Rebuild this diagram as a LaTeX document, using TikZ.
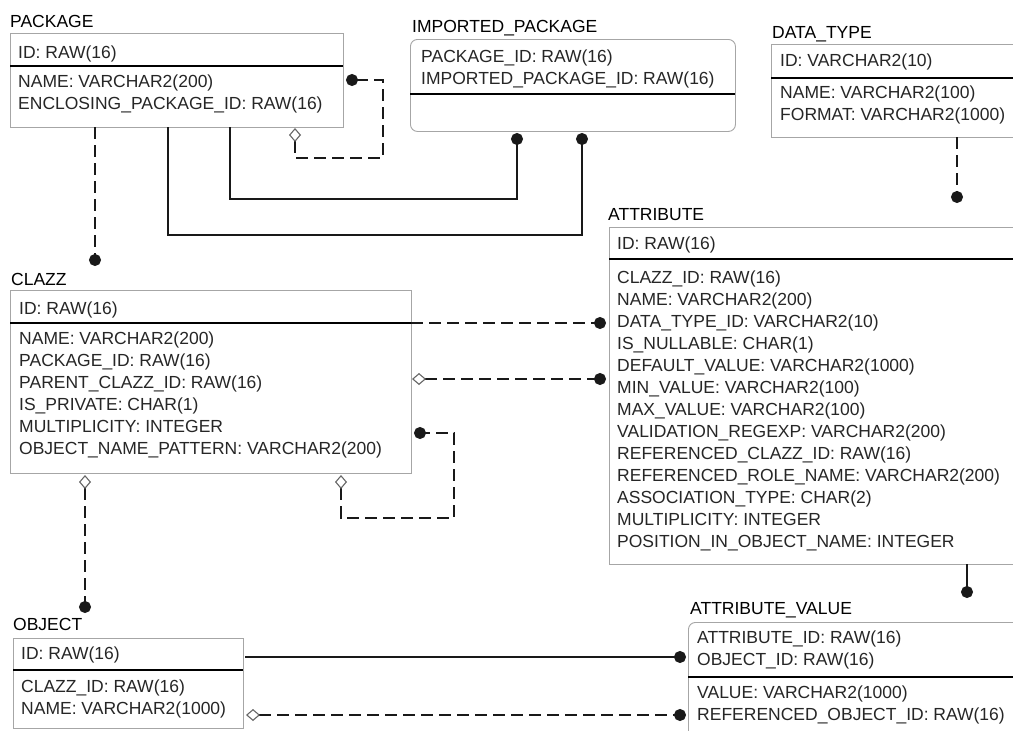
\documentclass[tikz,border=0pt]{standalone}
\usepackage{fontspec}
\setmainfont{Liberation Sans}
\usetikzlibrary{arrows.meta}

\tikzset{
  table/.style={draw=black!35, line width=0.9pt, inner sep=0pt, anchor=north west},
  weak/.style={table, rounded corners=7pt},
  title/.style={anchor=base west, inner sep=0pt, font=\fontsize{17.5}{22}\selectfont},
  % multi-line rows: the base anchor sits on the last line
  rows/.style={anchor=base west, inner sep=0pt, align=left, text=black!85,
    font=\fontsize{17.5}{22}\selectfont},
  sepline/.style={line width=1.2pt},
  ident/.style={line width=1.1pt, black!90},
  nonident/.style={ident, dash pattern=on 12pt off 6pt},
  dot/.style={-{Circle[length=12pt]}},
  dia/.style={{Diamond[open, length=14pt, width=12pt, black!60]}-{Circle[length=12pt]}}
}

\begin{document}
\begin{tikzpicture}[x=1pt, y=-1pt]
  \useasboundingbox (0,0) rectangle (1013,731);
  \fill[white] (0,0) rectangle (1013,731);
  \clip (0,0) rectangle (1013,731);

  % PACKAGE
  \node[title] (packageT) at (10,27) {PACKAGE};
  \node[table, minimum width=333pt, minimum height=94pt] (package) at (10,33) {};
  \draw[sepline] (10,66) -- (343,66);
  \node[rows] (packageK) at (18,58) {ID: RAW(16)};
  \node[rows] (packageB) at (18,109) {NAME: VARCHAR2(200)\\ENCLOSING\_PACKAGE\_ID: RAW(16)};

  % IMPORTED_PACKAGE
  \node[title] (impT) at (412,32) {IMPORTED\_PACKAGE};
  \node[weak, minimum width=325pt, minimum height=92pt] (imp) at (410,39) {};
  \draw[sepline] (410,94) -- (735,94);
  \node[rows] (impK) at (421,84) {PACKAGE\_ID: RAW(16)\\IMPORTED\_PACKAGE\_ID: RAW(16)};

  % DATA_TYPE
  \node[title] (dtypeT) at (772,38) {DATA\_TYPE};
  \node[table, minimum width=260pt, minimum height=93pt] (dtype) at (771,44) {};
  \draw[sepline] (771,78) -- (1031,78);
  \node[rows] (dtypeK) at (780,66) {ID: VARCHAR2(10)};
  \node[rows] (dtypeB) at (780,120) {NAME: VARCHAR2(100)\\FORMAT: VARCHAR2(1000)};

  % ATTRIBUTE
  \node[title] (attrT) at (608,220) {ATTRIBUTE};
  \node[table, minimum width=420pt, minimum height=337pt] (attr) at (609,227) {};
  \draw[sepline] (609,259) -- (1029,259);
  \node[rows] (attrK) at (617,249) {ID: RAW(16)};
  \node[rows] (attrB) at (617,547) {CLAZZ\_ID: RAW(16)\\NAME: VARCHAR2(200)\\DATA\_TYPE\_ID: VARCHAR2(10)\\
    IS\_NULLABLE: CHAR(1)\\DEFAULT\_VALUE: VARCHAR2(1000)\\MIN\_VALUE: VARCHAR2(100)\\
    MAX\_VALUE: VARCHAR2(100)\\VALIDATION\_REGEXP: VARCHAR2(200)\\REFERENCED\_CLAZZ\_ID: RAW(16)\\
    REFERENCED\_ROLE\_NAME: VARCHAR2(200)\\ASSOCIATION\_TYPE: CHAR(2)\\MULTIPLICITY: INTEGER\\
    POSITION\_IN\_OBJECT\_NAME: INTEGER};

  % CLAZZ
  \node[title] (clazzT) at (11,285) {CLAZZ};
  \node[table, minimum width=401pt, minimum height=183pt] (clazz) at (10,290) {};
  \draw[sepline] (10,323) -- (411,323);
  \node[rows] (clazzK) at (19,314) {ID: RAW(16)};
  \node[rows] (clazzB) at (19,454) {NAME: VARCHAR2(200)\\PACKAGE\_ID: RAW(16)\\PARENT\_CLAZZ\_ID: RAW(16)\\
    IS\_PRIVATE: CHAR(1)\\MULTIPLICITY: INTEGER\\OBJECT\_NAME\_PATTERN: VARCHAR2(200)};

  % OBJECT
  \node[title] (objectT) at (13,630) {OBJECT};
  \node[table, minimum width=230pt, minimum height=90pt] (object) at (13,638) {};
  \draw[sepline] (13,670) -- (243,670);
  \node[rows] (objectK) at (21,659) {ID: RAW(16)};
  \node[rows] (objectB) at (21,714) {CLAZZ\_ID: RAW(16)\\NAME: VARCHAR2(1000)};

  % ATTRIBUTE_VALUE
  \node[title] (avalT) at (690,614) {ATTRIBUTE\_VALUE};
  \node[weak, minimum width=345pt, minimum height=125pt] (aval) at (688,622) {};
  \draw[sepline] (688,677) -- (1033,677);
  \node[rows] (avalK) at (697,665) {ATTRIBUTE\_ID: RAW(16)\\OBJECT\_ID: RAW(16)};
  \node[rows] (avalB) at (697,720) {VALUE: VARCHAR2(1000)\\REFERENCED\_OBJECT\_ID: RAW(16)};

  % end points of the relations
  \coordinate (pkgSelfDia) at (295,128);
  \coordinate (pkgSelfDot) at (346,80);
  \coordinate (pkgClz) at (95,127);
  \coordinate (clzPkg) at (95,266);
  \coordinate (pkgImpA) at (230,127);
  \coordinate (impPkgA) at (517,133);
  \coordinate (pkgImpB) at (168,127);
  \coordinate (impPkgB) at (582,133);
  \coordinate (dtAttr) at (957,137);
  \coordinate (attrDt) at (957,203);
  \coordinate (clzAttrA) at (411,323);
  \coordinate (attrClzA) at (606,323);
  \coordinate (clzAttrB) at (412,379);
  \coordinate (attrClzB) at (606,379);
  \coordinate (clzSelfDia) at (341,475);
  \coordinate (clzSelfDot) at (414,433);
  \coordinate (clzObj) at (85,475);
  \coordinate (objClz) at (85,613);
  \coordinate (attrAval) at (967,564);
  \coordinate (avalAttr) at (967,598);
  \coordinate (objAval) at (245,657);
  \coordinate (avalObj) at (686,657);
  \coordinate (objAvalRef) at (246,715);
  \coordinate (avalObjRef) at (686,715);

  % relations
  \draw[nonident, dia] (pkgSelfDia) -- (295,158) -| (383,80) -- (pkgSelfDot);
  \draw[nonident, dot] (pkgClz) -- (clzPkg);
  \draw[ident, dot] (pkgImpA) -- (230,199) -| (impPkgA);
  \draw[ident, dot] (pkgImpB) -- (168,235) -| (impPkgB);
  \draw[nonident, dot] (dtAttr) -- (attrDt);
  \draw[nonident, dot] (clzAttrA) -- (attrClzA);
  \draw[nonident, dia] (clzAttrB) -- (attrClzB);
  \draw[nonident, dia] (clzSelfDia) -- (341,518) -| (454,433) -- (clzSelfDot);
  \draw[nonident, dia] (clzObj) -- (objClz);
  \draw[ident, dot] (attrAval) -- (avalAttr);
  \draw[ident, dot] (objAval) -- (avalObj);
  \draw[nonident, dia] (objAvalRef) -- (avalObjRef);
\end{tikzpicture}
\end{document}
